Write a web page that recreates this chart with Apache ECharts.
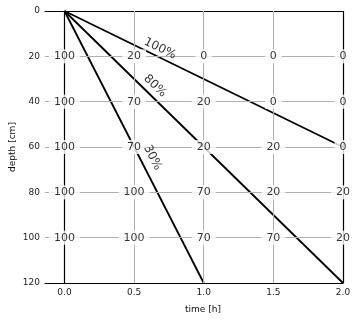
<!DOCTYPE html>
<html>
<head>
<meta charset="utf-8">
<script src="https://cdn.jsdelivr.net/npm/echarts@6/dist/echarts.min.js"></script>
<style>
html,body{margin:0;padding:0;background:#fff;}
#c{width:358px;height:321px;}
</style>
</head>
<body>
<div id="c"></div>
<script>
// ---- data ----
const times = [0.0, 0.5, 1.0, 1.5, 2.0];
const depths = [20, 40, 60, 80, 100];
const row20 = [100, 20, 0, 0, 0];
const row40 = [100, 70, 20, 0, 0];
const row60 = [100, 70, 20, 20, 0];
const row80 = [100, 100, 70, 20, 20];
const row100 = [100, 100, 70, 70, 20];
const rows = [row20, row40, row60, row80, row100];

const frontNames = ['100%', '80%', '30%'];
const frontEndTimes = [2.0, 2.0, 1.0];
const frontEndDepths = [60, 120, 120];
const frontLabelTimes = [0.686, 0.650, 0.632];
const frontLabelDepths = [16.6, 33.1, 64.7];

const xTicks = [0.0, 0.5, 1.0, 1.5, 2.0];

const FONT = 'DejaVu Sans';

const gridCells = [];
rows.forEach((r, i) => r.forEach((v, j) => gridCells.push([times[j], depths[i], v])));

const chart = echarts.init(document.getElementById('c'), null, {renderer: 'canvas'});

const series = [
  {
    type: 'line', data: [], z: 1, silent: true,
    markLine: {
      silent: true, symbol: 'none', label: {show: false}, animation: false,
      lineStyle: {color: '#b0b0b0', width: 1, type: 'solid'},
      data: xTicks.filter(v => v > 0 && v < 2).map(v => ({xAxis: v}))
        .concat(depths.map(d => ({yAxis: d})))
    }
  },
  {
    type: 'line', data: [], z: 2, silent: true,
    markLine: {
      silent: true, symbol: 'none', label: {show: false}, animation: false,
      lineStyle: {color: '#000', width: 1.2, type: 'solid'},
      data: [{xAxis: xTicks[0]}, {xAxis: xTicks[xTicks.length - 1]}]
    }
  }
];
frontNames.forEach((n, i) => {
  series.push({
    type: 'line', z: 3, silent: true, symbol: 'none', animation: false,
    lineStyle: {color: '#000', width: 1.8},
    data: [[0, 0], [frontEndTimes[i], frontEndDepths[i]]]
  });
});
series.push({
  type: 'scatter', z: 10, symbolSize: 0, silent: true, animation: false,
  data: gridCells,
  label: {
    show: true, position: 'inside', formatter: p => String(p.value[2]),
    fontFamily: FONT, fontSize: 11, color: '#000',
    backgroundColor: '#fff', padding: [1, 5], lineHeight: 12
  }
});

chart.setOption({
  animation: false,
  backgroundColor: '#fff',
  grid: {left: 45, right: 15, top: 11, bottom: 38, containLabel: false, outerBoundsMode: 'none'},
  xAxis: [{
    type: 'value', min: -0.14, max: 2.0,
    name: 'time [h]', nameLocation: 'middle', nameGap: 22, nameMoveOverlap: false,
    nameTextStyle: {fontFamily: FONT, fontSize: 9, color: '#111', padding: [0, 0, 0, 18]},
    axisLine: {show: true, onZero: false, lineStyle: {color: '#000', width: 1.2}},
    axisTick: {show: false},
    splitLine: {show: false},
    axisLabel: {customValues: xTicks, formatter: v => v.toFixed(1),
      fontFamily: FONT, fontSize: 9, color: '#222', margin: 5}
  }, {
    type: 'value', min: -0.14, max: 2.0, position: 'top',
    axisLine: {show: true, onZero: false, lineStyle: {color: '#000', width: 1.2}},
    axisTick: {show: false}, axisLabel: {show: false}, splitLine: {show: false}
  }],
  yAxis: {
    type: 'value', inverse: true, min: 0, max: 120, interval: 20,
    name: 'depth [cm]', nameLocation: 'middle', nameGap: 28, nameMoveOverlap: false,
    nameTextStyle: {fontFamily: FONT, fontSize: 9, color: '#111'},
    axisLine: {show: false}, axisTick: {show: false}, splitLine: {show: false},
    axisLabel: {fontFamily: FONT, fontSize: 9, color: '#222', margin: 5}
  },
  series: series
});

// line labels rotated along their lines
const p0 = chart.convertToPixel({xAxisIndex: 0, yAxisIndex: 0}, [0, 0]);
const labelData = frontNames.map((n, i) => {
  const p1 = chart.convertToPixel({xAxisIndex: 0, yAxisIndex: 0}, [frontEndTimes[i], frontEndDepths[i]]);
  const ang = Math.atan2(p1[1] - p0[1], p1[0] - p0[0]) * 180 / Math.PI;
  return {
    name: n, value: [frontLabelTimes[i], frontLabelDepths[i]],
    label: {rotate: -ang}
  };
});
series.push({
  type: 'scatter', z: 11, symbolSize: 0, silent: true, animation: false,
  data: labelData,
  label: {show: true, position: 'inside', formatter: p => p.name,
    fontFamily: FONT, fontSize: 12, color: '#000'}
});
chart.setOption({series: series});
</script>
</body>
</html>
